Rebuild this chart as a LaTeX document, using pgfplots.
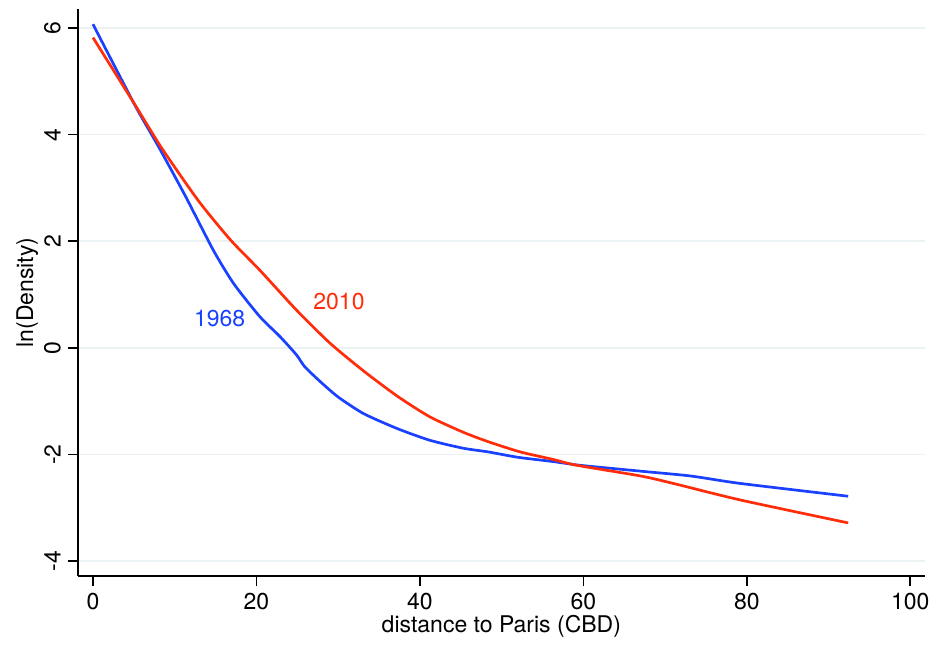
\documentclass[border=0pt]{standalone}
\usepackage{pgfplots}
\pgfplotsset{compat=1.18}
\usepackage{fontspec}
\setmainfont{TeX Gyre Heros}
\definecolor{blueA}{RGB}{25,65,255}
\definecolor{redA}{RGB}{255,45,10}
\definecolor{gridc}{RGB}{234,242,243}
\begin{document}
\begin{tikzpicture}
\useasboundingbox (-38.85pt,-46.15pt) rectangle (429.15pt,287.85pt);
\begin{axis}[
  at={(0,0)}, anchor=south west,
  scale only axis,
  width=423.65pt, height=283.2pt,
  xmin=-1.87, xmax=101.8,
  ymin=-4.27, ymax=6.35,
  axis x line*=bottom, axis y line*=left,
  axis line style={line width=0.85pt, -},
  xtick={0,20,40,60,80,100},
  ytick={-4,-2,0,2,4,6},
  tick align=outside,
  major tick length=5pt,
  tick style={line width=0.8pt, black},
  ymajorgrids,
  grid style={gridc, line width=0.8pt},
  /pgf/number format/assume math mode=true,
  ticklabel style={font=\fontsize{11.5}{13.8}\selectfont},
  yticklabel style={rotate=90, anchor=south},
  xlabel={distance to Paris (CBD)},
  ylabel={ln(Density)},
  label style={font=\fontsize{11.5}{13.8}\selectfont},
  xlabel style={yshift=4pt},
  ylabel style={yshift=-4pt},
  clip=false,
]
\addplot[blueA, line width=1.35pt, smooth, tension=0.4] coordinates {
(0,6.07) (5.1,4.56) (8,3.78) (11.3,2.85) (14.7,1.84) (17.2,1.21)
(20.4,0.59) (22.9,0.21) (24.9,-0.13) (25.9,-0.35) (27.8,-0.63) (30,-0.92)
(33.1,-1.23) (37.2,-1.51) (41.2,-1.73) (45.3,-1.88) (48.4,-1.95) (52,-2.05)
(56.3,-2.13) (59.6,-2.20) (67,-2.31) (73.1,-2.40) (79.2,-2.54) (92.4,-2.78)
};
\addplot[redA, line width=1.35pt, smooth, tension=0.4] coordinates {
(0,5.82) (3.1,5.06) (5.1,4.57) (8.4,3.75) (12.9,2.76) (16.8,2.03)
(20.4,1.46) (24.9,0.71) (29,0.09) (33.1,-0.43) (37.2,-0.90) (41.2,-1.29)
(45.3,-1.58) (48.4,-1.76) (52.3,-1.95) (56.3,-2.09) (59.2,-2.20) (67,-2.40)
(71,-2.54) (79.2,-2.85) (92.4,-3.28)
};
\node[blueA, font=\fontsize{11.5}{13.8}\selectfont] at (axis cs:15.5,0.56) {1968};
\node[redA, font=\fontsize{11.5}{13.8}\selectfont] at (axis cs:30.1,0.88) {2010};
\end{axis}
\end{tikzpicture}
\end{document}
